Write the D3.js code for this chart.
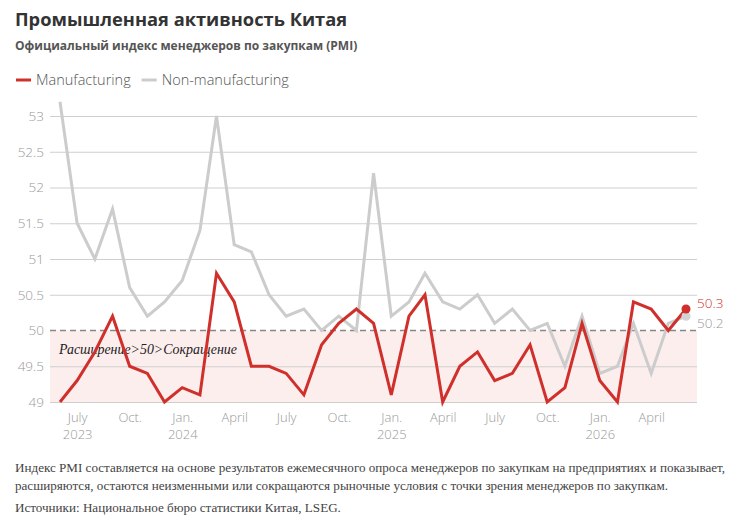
<!DOCTYPE html>
<html><head><meta charset="utf-8">
<script src="https://cdn.jsdelivr.net/npm/d3@7"></script>
<style>
body{margin:0;background:#fff;}
svg{display:block;}
</style></head>
<body>
<svg id="c" width="745" height="529"></svg>
<script>
const months = ["2023-06","2023-07","2023-08","2023-09","2023-10","2023-11","2023-12",
"2024-01","2024-02","2024-03","2024-04","2024-05","2024-06","2024-07","2024-08","2024-09","2024-10","2024-11","2024-12",
"2025-01","2025-02","2025-03","2025-04","2025-05","2025-06","2025-07","2025-08","2025-09","2025-10","2025-11","2025-12",
"2026-01","2026-02","2026-03","2026-04","2026-05","2026-06"];
const manufacturing = [49.0,49.3,49.7,50.2,49.5,49.4,49.0,
49.2,49.1,50.8,50.4,49.5,49.5,49.4,49.1,49.8,50.1,50.3,50.1,
49.1,50.2,50.5,49.0,49.5,49.7,49.3,49.4,49.8,49.0,49.2,50.1,
49.3,49.0,50.4,50.3,50.0,50.3];
const nonManufacturing = [53.2,51.5,51.0,51.7,50.6,50.2,50.4,
50.7,51.4,53.0,51.2,51.1,50.5,50.2,50.3,50.0,50.2,50.0,52.2,
50.2,50.4,50.8,50.4,50.3,50.5,50.1,50.3,50.0,50.1,49.5,50.2,
49.4,49.5,50.1,49.4,50.1,50.2];
const yTicks = [49,49.5,50,50.5,51,51.5,52,52.5,53];
const xTickMonths = ["2023-07","2023-10","2024-01","2024-04","2024-07","2024-10","2025-01","2025-04","2025-07","2025-10","2026-01","2026-04"];
const xTickLabels = ["July","Oct.","Jan.","April","July","Oct.","Jan.","April","July","Oct.","Jan.","April"];
const xTickYears = ["2023","","2024","","","","2025","","","","2026",""];
const seriesNames = ["Manufacturing","Non-manufacturing"];
const seriesColors = ["#d0302b","#cccccc"];

const parse = d3.timeParse("%Y-%m");
const dates = months.map(parse);
const svg = d3.select("#c");
const x = d3.scaleTime().domain([dates[0], dates[dates.length-1]]).range([60,686]);
const y = d3.scaleLinear().domain([49,53]).range([402,116]);
const left = 50, right = 697;

// Title
svg.append("text").attr("x",15).attr("y",26).text("Промышленная активность Китая")
  .attr("font-family","Open Sans, sans-serif").attr("font-weight",700).attr("font-size",18.3).attr("fill","#333");
svg.append("text").attr("x",15).attr("y",50).text("Официальный индекс менеджеров по закупкам (PMI)")
  .attr("font-family","Open Sans, sans-serif").attr("font-weight",700).attr("font-size",12).attr("fill","#555");

// Legend
const lg = svg.append("g");
let lx = 16;
seriesNames.forEach((n,i)=>{
  lg.append("line").attr("x1",lx).attr("x2",lx+15).attr("y1",80).attr("y2",80).attr("stroke",seriesColors[i]).attr("stroke-width",3);
  const t = lg.append("text").attr("x",lx+20).attr("y",85).text(n)
    .attr("font-family","Open Sans, sans-serif").attr("font-weight",300).attr("font-size",14.5).attr("fill","#555");
  lx += 20 + t.node().getComputedTextLength() + 11;
});

// Contraction band
svg.append("rect").attr("x",left).attr("y",y(50)).attr("width",right-left).attr("height",y(49)-y(50)).attr("fill","#fdeeee");

// Grid + y axis
const yAxis = d3.axisLeft(y).tickValues(yTicks).tickSize(-(right-left)).tickFormat(d3.format("~g"));
const gy = svg.append("g").attr("transform",`translate(${left},0)`).call(yAxis);
gy.select(".domain").remove();
gy.selectAll(".tick line").attr("stroke","#cfcfcf").attr("stroke-width",1.2);
gy.selectAll(".tick text").attr("x",-6).attr("font-family","Open Sans, sans-serif").attr("font-weight",300).attr("font-size",13.5).attr("fill","#999");
gy.selectAll(".tick").filter(d=>d===50).select("line").attr("stroke","none");

// 50 dashed line
svg.append("line").attr("x1",left).attr("x2",right).attr("y1",y(50)).attr("y2",y(50))
  .attr("stroke","#888").attr("stroke-width",1.6).attr("stroke-dasharray","6,4");

// Annotation
svg.append("text").attr("x",59).attr("y",354).text("Расширение>50>Сокращение")
  .attr("font-family","Liberation Serif, serif").attr("font-style","italic").attr("font-size",13.9).attr("fill","#222");

// X axis
const xAxis = d3.axisBottom(x).tickValues(xTickMonths.map(parse)).tickSize(0).tickFormat("");
const gx = svg.append("g").attr("transform",`translate(0,${y(49)})`).call(xAxis);
gx.select(".domain").remove();
gx.selectAll(".tick text").remove();
gx.selectAll(".tick").each(function(d,i){
  const g = d3.select(this);
  g.append("text").attr("text-anchor","middle").attr("y",20).text(xTickLabels[i])
    .attr("font-family","Open Sans, sans-serif").attr("font-weight",300).attr("font-size",13).attr("fill","#999");
  if (xTickYears[i]) g.append("text").attr("text-anchor","middle").attr("y",37).text(xTickYears[i])
    .attr("font-family","Open Sans, sans-serif").attr("font-weight",300).attr("font-size",13).attr("fill","#999");
});

// Lines
const line = d3.line().x((d,i)=>x(dates[i])).y(d=>y(d));
[nonManufacturing, manufacturing].forEach((s,k)=>{
  const c = k===0 ? seriesColors[1] : seriesColors[0];
  svg.append("path").datum(s).attr("d",line).attr("fill","none").attr("stroke",c).attr("stroke-width",3).attr("stroke-linejoin","miter");
});
const last = dates.length-1;
svg.append("circle").attr("cx",x(dates[last])).attr("cy",y(nonManufacturing[last])).attr("r",4.5).attr("fill","#d4d4d4");
svg.append("circle").attr("cx",x(dates[last])).attr("cy",y(manufacturing[last])).attr("r",4.5).attr("fill",seriesColors[0]);
svg.append("text").attr("x",697).attr("y",y(manufacturing[last])-1).text(d3.format(".1f")(manufacturing[last]))
  .attr("font-family","Open Sans, sans-serif").attr("font-weight",300).attr("font-size",13.5).attr("fill",seriesColors[0]);
svg.append("text").attr("x",697).attr("y",y(nonManufacturing[last])+12).text(d3.format(".1f")(nonManufacturing[last]))
  .attr("font-family","Open Sans, sans-serif").attr("font-weight",300).attr("font-size",13.5).attr("fill","#999");

// Footer
const foot = ["Индекс PMI составляется на основе результатов ежемесячного опроса менеджеров по закупкам на предприятиях и показывает,",
"расширяются, остаются неизменными или сокращаются рыночные условия с точки зрения менеджеров по закупкам.",
"Источники: Национальное бюро статистики Китая, LSEG."];
[472,490,512].forEach((yy,i)=>{
  svg.append("text").attr("x",15).attr("y",yy).text(foot[i])
    .attr("font-family","Liberation Serif, serif").attr("font-size",13.1).attr("fill","#444");
});
</script>
</body></html>
